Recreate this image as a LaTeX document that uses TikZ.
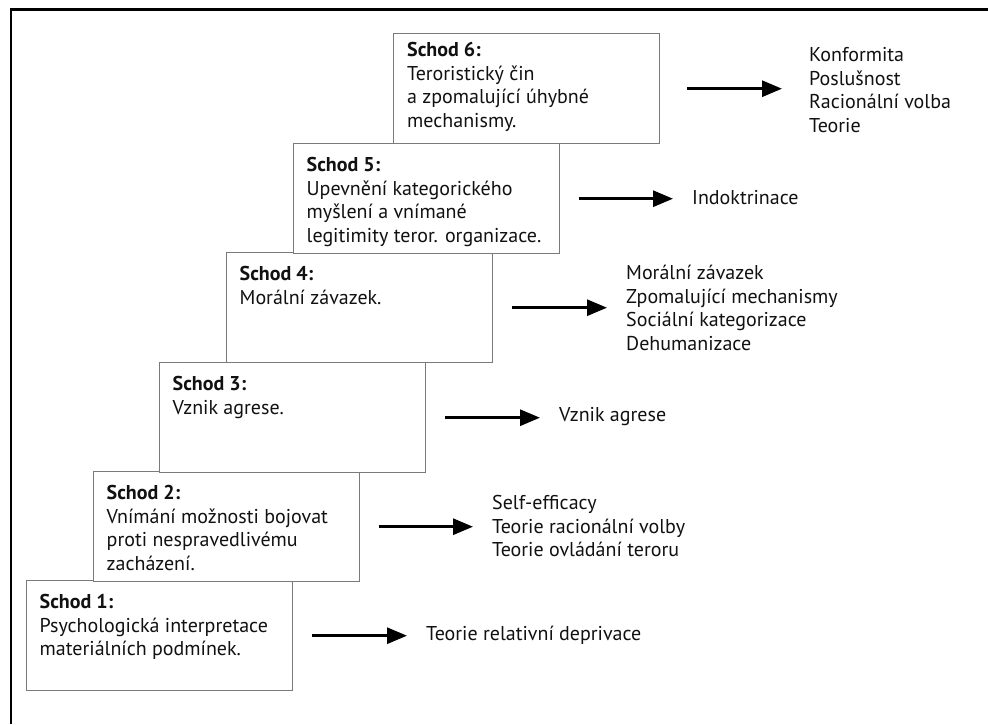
\documentclass[tikz,border=0pt]{standalone}
\usepackage{fontspec}
\setmainfont{PT Sans}
\usetikzlibrary{arrows.meta}
\definecolor{boxgray}{HTML}{7A7A7A}
\definecolor{inkc}{HTML}{111111}
\newcommand{\stepfont}{\fontsize{20}{23.6}\selectfont}
\tikzset{
  stepbox/.style={draw=boxgray, line width=1.4pt, fill=white, minimum width=266pt, minimum height=110pt, inner sep=0pt, anchor=north west},
  steptext/.style={anchor=north west, align=left, inner sep=0pt, font=\stepfont, text=inkc},
  theory/.style={anchor=west, align=left, inner sep=0pt, font=\stepfont, text=inkc},
  arr/.style={line width=3pt, -{Triangle[length=20pt, width=16pt]}},
}
\begin{document}
\begin{tikzpicture}[x=1pt, y=-1pt]
\useasboundingbox (0,0) rectangle (988,724);
\fill[white] (0,0) rectangle (988,724);
% frame
\draw[line width=3.2pt] (10,9.5) -- (988,9.5);
\draw[line width=2pt] (11,8) -- (11,724);
% boxes (bottom to top)
\node[stepbox] (b1) at (26,580) {};
\node[stepbox] (b2) at (93,471) {};
\node[stepbox] (b3) at (159,362) {};
\node[stepbox] (b4) at (226,252) {};
\node[stepbox] (b5) at (293,143) {};
\node[stepbox] (b6) at (393,33) {};
% box texts
\node[steptext] (s1) at (39.5,594) {\textbf{Schod 1:}\\Psychologická interpretace\\materiálních podmínek.};
\node[steptext] (s2) at (106.5,485) {\textbf{Schod 2:}\\Vnímání možnosti bojovat\\proti nespravedlivému\\zacházení.};
\node[steptext] (s3) at (172.5,376) {\textbf{Schod 3:}\\Vznik agrese.};
\node[steptext] (s4) at (239.5,266) {\textbf{Schod 4:}\\Morální závazek.};
\node[steptext] (s5) at (306.5,157) {\textbf{Schod 5:}\\Upevnění kategorického\\myšlení a vnímané\\legitimity teror. organizace.};
\node[steptext] (s6) at (407,42) {\textbf{Schod 6:}\\Teroristický čin\\a zpomalující úhybné\\mechanismy.};
% theory texts
\node[theory] (r1) at (426,635) {Teorie relativní deprivace};
\node[theory] (r2) at (492,526) {Self-efficacy\\Teorie racionální volby\\Teorie ovládání teroru};
\node[theory] (r3) at (559,417) {Vznik agrese};
\node[theory] (r4) at (626,308) {Morální závazek\\Zpomalující mechanismy\\Sociální kategorizace\\Dehumanizace};
\node[theory] (r5) at (692,198) {Indoktrinace};
\node[theory] (r6) at (809,90) {Konformita\\Poslušnost\\Racionální volba\\Teorie};
% arrows
\draw[arr] ([xshift=19pt]b1.east) -- ([xshift=-19pt]r1.west |- b1.east);
\draw[arr] ([xshift=19pt]b2.east) -- ([xshift=-19pt]r2.west |- b2.east);
\draw[arr] ([xshift=19pt]b3.east) -- ([xshift=-19pt]r3.west |- b3.east);
\draw[arr] ([xshift=19pt]b4.east) -- ([xshift=-19pt]r4.west |- b4.east);
\draw[arr] ([xshift=19pt]b5.east) -- ([xshift=-19pt]r5.west |- b5.east);
\draw[arr] ([xshift=27pt]b6.east) -- ([xshift=-27pt]r6.west |- b6.east);
\end{tikzpicture}
\end{document}
